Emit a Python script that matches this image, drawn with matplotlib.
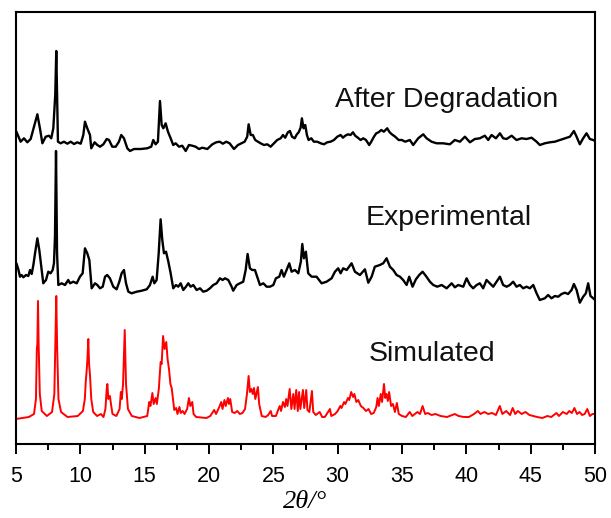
import matplotlib
matplotlib.use("Agg")
import matplotlib.pyplot as plt
from matplotlib.ticker import MultipleLocator

# ---------------- data (2theta in degrees, intensity in arbitrary units, traces stacked) ----
after_x = [5.05, 5.36, 5.62, 5.88, 6.14, 6.40, 6.66, 6.86, 7.05, 7.31, 7.56, 7.74, 7.90, 8.05,
           8.13, 8.26, 8.47, 8.73, 8.99, 9.25, 9.51, 9.76, 10.03, 10.23, 10.36, 10.54, 10.75,
           10.85, 11.11, 11.32, 11.53, 11.79, 12.05, 12.23, 12.48, 12.75, 13.00, 13.18, 13.39,
           13.65, 13.86, 14.17, 14.69, 15.20, 15.51, 15.67, 15.85, 16.03, 16.19, 16.32, 16.45,
           16.63, 16.81, 17.02, 17.22, 17.41, 17.67, 17.92, 18.19, 18.44, 18.70, 18.96, 19.22,
           19.48, 19.87, 20.26, 20.56, 20.83, 21.08, 21.34, 21.60, 21.94, 22.25, 22.51, 22.77,
           22.97, 23.08, 23.24, 23.41, 23.59, 23.80, 24.01, 24.27, 24.53, 24.79, 25.05, 25.30,
           25.57, 25.75, 25.92, 26.13, 26.29, 26.45, 26.66, 26.83, 26.97, 27.12, 27.22, 27.35,
           27.48, 27.61, 27.74, 27.95, 28.15, 28.41, 28.68, 28.93, 29.19, 29.45, 29.71, 29.97,
           30.23, 30.41, 30.59, 30.80, 31.00, 31.19, 31.36, 31.57, 31.78, 31.99, 32.20, 32.45,
           32.61, 32.82, 33.00, 33.18, 33.39, 33.59, 33.85, 34.04, 34.21, 34.47, 34.74, 34.99,
           35.25, 35.61, 35.87, 36.26, 36.65, 36.91, 37.30, 37.69, 38.20, 38.72, 39.11, 39.50,
           39.89, 40.28, 40.66, 41.05, 41.44, 41.70, 41.96, 42.30, 42.61, 42.86, 43.13, 43.52,
           43.90, 44.29, 44.68, 45.07, 45.46, 45.71, 46.10, 46.49, 46.88, 47.27, 47.66, 48.05,
           48.36, 48.57, 48.82, 49.08, 49.34, 49.60, 49.86, 50.00]
after_y = [311.7, 302.3, 305.7, 301.7, 305.0, 317.3, 329.7, 315.7, 300.7, 307.3, 308.3, 305.7,
           315.7, 349.0, 393.0, 302.3, 300.7, 302.3, 300.3, 302.3, 300.0, 301.7, 300.3, 309.0,
           322.3, 315.7, 309.0, 295.7, 301.7, 299.0, 297.3, 299.7, 305.0, 304.0, 297.3, 297.3,
           302.3, 309.0, 305.7, 295.7, 293.0, 295.0, 295.0, 295.7, 297.3, 304.0, 299.7, 302.3,
           343.0, 319.0, 315.7, 320.7, 312.3, 305.7, 299.0, 300.7, 297.3, 298.3, 293.0, 299.0,
           298.3, 297.3, 295.0, 296.3, 295.0, 299.7, 301.7, 302.3, 300.3, 302.3, 300.7, 295.0,
           299.0, 300.7, 302.3, 307.3, 319.7, 309.0, 309.0, 304.0, 302.3, 300.7, 299.0, 299.7,
           297.3, 300.7, 304.0, 305.7, 309.0, 306.3, 311.7, 313.0, 307.3, 305.7, 309.7, 311.7,
           316.3, 325.7, 315.7, 319.0, 309.0, 304.0, 305.7, 302.3, 302.3, 300.7, 299.7, 301.7,
           302.3, 304.0, 307.3, 309.0, 306.3, 308.3, 309.7, 309.0, 311.7, 308.3, 306.3, 304.0,
           305.7, 304.0, 299.0, 302.3, 307.3, 310.7, 311.7, 314.0, 312.3, 315.7, 311.7, 309.7,
           307.3, 304.0, 304.0, 302.3, 304.0, 299.0, 305.7, 309.7, 305.7, 302.3, 300.7, 300.7,
           299.7, 304.0, 302.3, 307.3, 301.7, 305.0, 305.7, 308.3, 304.0, 309.0, 305.7, 310.7,
           305.7, 305.0, 308.3, 304.0, 305.7, 305.0, 306.3, 302.3, 299.0, 300.7, 301.7, 302.3,
           304.0, 305.7, 307.3, 313.0, 307.3, 299.7, 305.7, 310.7, 305.0, 304.0, 303.0]

exp_x = [5.05, 5.18, 5.31, 5.44, 5.57, 5.78, 5.96, 6.09, 6.22, 6.35, 6.48, 6.66, 6.81, 7.00,
         7.12, 7.33, 7.51, 7.69, 7.85, 7.95, 8.03, 8.11, 8.19, 8.29, 8.55, 8.81, 9.06, 9.20,
         9.45, 9.72, 9.97, 10.18, 10.36, 10.54, 10.70, 10.88, 11.14, 11.32, 11.53, 11.74, 11.92,
         12.09, 12.30, 12.56, 12.82, 13.03, 13.21, 13.39, 13.55, 13.73, 13.99, 14.38, 14.77,
         15.16, 15.41, 15.62, 15.75, 15.93, 16.09, 16.24, 16.37, 16.50, 16.66, 16.84, 17.02,
         17.22, 17.43, 17.61, 17.80, 18.00, 18.21, 18.39, 18.57, 18.78, 19.04, 19.30, 19.55,
         19.82, 20.07, 20.33, 20.59, 20.85, 21.06, 21.24, 21.50, 21.76, 21.88, 22.15, 22.40,
         22.66, 22.85, 23.00, 23.18, 23.36, 23.57, 23.70, 23.96, 24.22, 24.48, 24.74, 25.00,
         25.20, 25.46, 25.64, 25.82, 26.03, 26.24, 26.42, 26.68, 26.94, 27.14, 27.25, 27.38,
         27.53, 27.71, 27.98, 28.36, 28.75, 29.14, 29.53, 29.79, 30.04, 30.23, 30.43, 30.70,
         31.08, 31.34, 31.73, 32.12, 32.38, 32.64, 32.89, 33.28, 33.54, 33.80, 34.06, 34.32,
         34.58, 34.84, 35.09, 35.36, 35.56, 35.82, 36.08, 36.34, 36.60, 36.86, 37.17, 37.43,
         37.74, 38.08, 38.47, 38.86, 39.11, 39.37, 39.76, 40.02, 40.28, 40.53, 40.80, 41.05,
         41.31, 41.57, 41.83, 42.09, 42.35, 42.61, 42.86, 43.13, 43.38, 43.64, 43.90, 44.16,
         44.42, 44.68, 44.94, 45.20, 45.46, 45.71, 46.10, 46.36, 46.62, 46.88, 47.14, 47.40,
         47.66, 47.91, 48.18, 48.36, 48.57, 48.82, 49.08, 49.29, 49.47, 49.65, 49.86, 50.00]
exp_y = [180.0, 174.7, 167.3, 169.0, 166.7, 169.0, 168.0, 174.0, 170.0, 179.0, 190.7, 205.7,
         194.0, 174.0, 160.7, 164.0, 172.3, 170.7, 174.0, 180.7, 207.3, 293.0, 190.7, 159.0,
         160.7, 159.0, 164.0, 160.7, 162.3, 160.7, 167.3, 170.7, 195.7, 190.7, 184.0, 155.7,
         160.7, 159.0, 155.7, 157.3, 167.3, 169.0, 165.7, 157.3, 154.7, 162.3, 170.7, 174.0,
         160.7, 152.3, 150.7, 152.3, 153.3, 154.7, 159.0, 167.3, 160.7, 164.0, 190.7, 224.7,
         204.0, 190.7, 192.3, 182.3, 170.7, 155.7, 159.0, 157.3, 160.7, 154.0, 157.3, 160.7,
         157.3, 159.0, 154.0, 155.7, 152.3, 153.3, 155.7, 159.0, 160.7, 165.7, 164.0, 165.7,
         164.0, 157.3, 153.3, 159.0, 160.7, 162.3, 174.0, 190.0, 175.7, 174.0, 174.0, 169.0,
         159.0, 160.7, 157.3, 157.3, 159.0, 165.7, 167.3, 174.0, 167.3, 174.0, 180.7, 172.3,
         174.0, 170.7, 182.3, 200.0, 185.7, 192.3, 170.7, 167.3, 167.3, 160.7, 162.3, 165.7,
         172.3, 175.7, 170.7, 175.7, 174.0, 180.7, 172.3, 169.0, 174.7, 161.3, 167.3, 177.3,
         179.0, 180.7, 185.7, 177.3, 174.0, 169.0, 167.3, 164.0, 159.0, 167.3, 157.3, 164.7,
         169.0, 172.3, 168.0, 162.3, 159.0, 157.3, 159.0, 155.7, 160.7, 156.7, 159.0, 157.3,
         165.7, 159.0, 155.7, 159.0, 160.7, 155.7, 164.0, 160.7, 157.3, 162.3, 167.3, 159.0,
         157.3, 159.0, 162.3, 157.3, 159.0, 155.7, 157.3, 155.7, 159.0, 150.7, 144.0, 145.7,
         149.0, 145.7, 148.0, 147.3, 150.0, 151.3, 150.0, 154.0, 160.0, 154.0, 141.3, 147.3,
         150.7, 160.7, 148.0, 145.7, 144.0]

sim_x = [5.00, 6.00, 6.40, 6.55, 6.62, 6.66, 6.71, 6.76, 6.85, 7.00, 7.40, 7.80, 7.98, 8.05,
         8.13, 8.20, 8.30, 8.50, 9.00, 9.80, 10.20, 10.35, 10.42, 10.50, 10.55, 10.62, 10.68,
         10.75, 10.85, 11.00, 11.30, 11.60, 11.80, 11.95, 12.05, 12.10, 12.18, 12.30, 12.38,
         12.50, 12.80, 13.05, 13.15, 13.22, 13.32, 13.45, 13.55, 13.70, 14.00, 14.60, 15.20,
         15.35, 15.45, 15.60, 15.70, 15.85, 15.95, 16.10, 16.24, 16.32, 16.43, 16.55, 16.68,
         16.78, 16.90, 17.00, 17.10, 17.20, 17.30, 17.45, 17.55, 17.70, 17.80, 17.95, 18.10,
         18.30, 18.44, 18.55, 18.70, 18.80, 19.00, 19.80, 20.10, 20.40, 20.55, 20.80, 20.95,
         21.05, 21.20, 21.30, 21.47, 21.55, 21.65, 21.80, 22.00, 22.20, 22.40, 22.60, 22.80,
         22.95, 23.08, 23.18, 23.30, 23.40, 23.50, 23.60, 23.80, 23.90, 24.10, 24.40, 24.60,
         24.80, 24.90, 25.20, 25.40, 25.50, 25.60, 25.75, 25.90, 26.00, 26.10, 26.27, 26.40,
         26.55, 26.65, 26.78, 26.90, 27.00, 27.10, 27.30, 27.40, 27.56, 27.65, 27.80, 28.00,
         28.10, 28.30, 28.60, 28.80, 29.00, 29.40, 29.50, 29.80, 30.00, 30.20, 30.30, 30.50,
         30.60, 30.80, 30.90, 31.05, 31.20, 31.30, 31.45, 31.60, 31.80, 32.00, 32.20, 32.40,
         32.60, 32.80, 33.00, 33.10, 33.20, 33.35, 33.45, 33.60, 33.70, 33.80, 33.90, 34.00,
         34.15, 34.30, 34.45, 34.60, 34.75, 35.00, 35.30, 35.60, 35.80, 36.20, 36.40, 36.60,
         36.80, 37.00, 37.30, 37.60, 38.00, 38.50, 39.10, 39.40, 39.80, 40.20, 40.60, 40.90,
         41.10, 41.40, 41.70, 42.00, 42.30, 42.60, 42.80, 43.10, 43.40, 43.60, 43.80, 44.00,
         44.30, 44.60, 44.90, 45.20, 45.50, 45.90, 46.30, 46.60, 47.00, 47.20, 47.50, 47.80,
         48.00, 48.20, 48.40, 48.60, 48.80, 49.00, 49.20, 49.40, 49.60, 49.80, 50.00]
sim_y = [25, 27, 30, 45, 95, 100, 143, 100, 50, 33, 28, 32, 50, 95,
         148, 95, 45, 32, 27, 28, 33, 45, 62, 75, 85, 105, 80,
         69, 45, 32, 28, 30, 27, 35, 55, 60, 45, 48, 40,
         30, 28, 35, 52, 45, 60, 114, 60, 35, 28, 26, 28,
         42, 38, 51, 40, 46, 40, 55, 82, 80, 108, 95, 102,
         85, 74, 60, 56, 45, 34, 36, 30, 37, 31, 33, 30,
         35, 46, 38, 42, 30, 27, 26, 28, 34, 30, 37, 42,
         35, 44, 38, 46, 40, 45, 32, 31, 33, 30, 31, 35,
         50, 68, 52, 55, 50, 56, 45, 57, 40, 28, 27, 29,
         33, 28, 28, 35, 38, 33, 42, 37, 45, 38, 55, 35,
         50, 35, 54, 33, 52, 35, 54, 36, 54, 34, 32, 53,
         32, 29, 32, 27, 27, 35, 28, 30, 33, 38, 36, 42,
         40, 46, 44, 52, 47, 50, 42, 44, 38, 36, 33, 35,
         30, 31, 37, 46, 38, 50, 42, 60, 46, 50, 43, 52,
         38, 40, 32, 41, 30, 28, 27, 32, 28, 32, 30, 38,
         30, 31, 29, 30, 28, 27, 30, 28, 27, 27, 30, 33,
         30, 32, 30, 31, 29, 38, 30, 33, 29, 36, 30, 33,
         30, 32, 29, 28, 27, 26, 28, 27, 31, 28, 32, 30,
         33, 31, 36, 30, 32, 29, 30, 35, 28, 30, 30]

labels = ["After Degradation", "Experimental", "Simulated"]
label_pos = [(38.5, 344), (38.6, 226), (37.3, 90)]
xticks = [5, 10, 15, 20, 25, 30, 35, 40, 45, 50]

# ---------------- figure ----------------
fig = plt.figure(figsize=(6.11, 5.18), dpi=100)
ax = fig.add_axes([16 / 611, 1 - 444 / 518, 579 / 611, 432 / 518])

ax.plot(after_x, after_y, color="black", lw=1.7, solid_joinstyle="round")
ax.plot(exp_x, exp_y, color="black", lw=1.7, solid_joinstyle="round")
ax.plot(sim_x, sim_y, color="#ff0000", lw=1.4, solid_joinstyle="round")

for txt, (x, y) in zip(labels, label_pos):
    ax.text(x, y, txt, ha="center", va="center", fontsize=20.5,
            family=["Liberation Sans", "DejaVu Sans"], color="#111111")

ax.set_xlim(5, 50)
ax.set_ylim(0, 432)
ax.set_xticks(xticks)
ax.xaxis.set_minor_locator(MultipleLocator(2.5))
ax.set_yticks([])
ax.tick_params(axis="x", which="major", direction="out", length=7.5, width=1.4,
               labelsize=15.5, pad=8)
ax.tick_params(axis="x", which="minor", direction="out", length=4, width=1.4)
for lab in ax.get_xticklabels():
    lab.set_family(["Liberation Sans", "DejaVu Sans"])
for sp in ax.spines.values():
    sp.set_linewidth(1.5)

ax.set_xlabel("2θ/°", fontsize=19, style="italic",
              family=["Liberation Serif", "DejaVu Serif"], labelpad=3)

fig.savefig("out.png", dpi=100)
